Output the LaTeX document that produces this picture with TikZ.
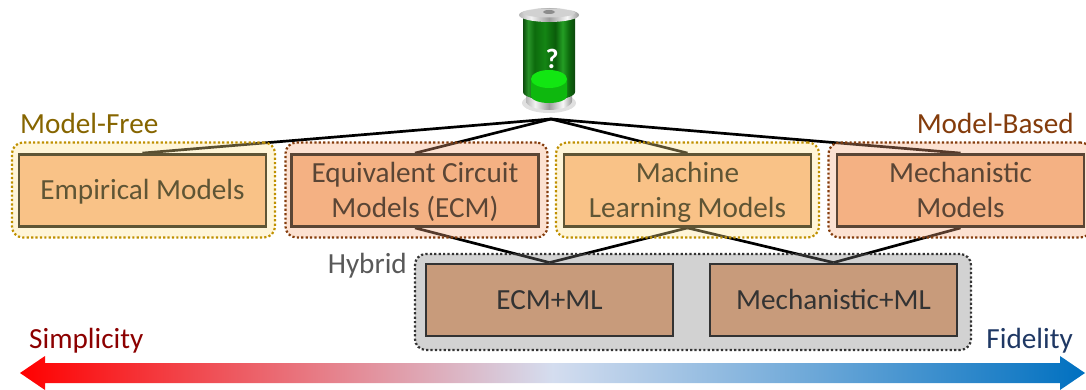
\documentclass[tikz,border=0pt]{standalone}
\usepackage{fontspec}
\setmainfont{Carlito}
\definecolor{freeedge}{HTML}{BF9000}
\definecolor{freefill}{HTML}{FFE38F}
\definecolor{freebox}{HTML}{F9C287}
\definecolor{freeink}{HTML}{5F5535}
\definecolor{basededge}{HTML}{843C0C}
\definecolor{basedfill}{HTML}{F7A97C}
\definecolor{basedbox}{HTML}{F4B183}
\definecolor{basedink}{HTML}{5A4535}
\definecolor{hybridfill}{HTML}{7F7F7F}
\definecolor{hybridbox}{HTML}{C89B7B}
\definecolor{hybridink}{HTML}{333333}
\definecolor{scalemid}{HTML}{D4DDEF}
\definecolor{scaleright}{HTML}{0070C0}
\definecolor{fidelityink}{HTML}{1F3864}
\definecolor{liquid}{HTML}{12E612}
\pgfdeclarehorizontalshading{glass}{100bp}{rgb(0bp)=(0.05,0.30,0.05); rgb(25bp)=(0.05,0.30,0.05); rgb(30bp)=(0.16,0.58,0.16); rgb(36bp)=(0.05,0.42,0.05); rgb(46bp)=(0.08,0.52,0.08); rgb(56bp)=(0.04,0.36,0.04); rgb(63bp)=(0.14,0.62,0.14); rgb(69bp)=(0.05,0.42,0.05); rgb(75bp)=(0.05,0.28,0.05); rgb(100bp)=(0.05,0.28,0.05)}
\pgfdeclarehorizontalshading{silver}{100bp}{rgb(0bp)=(0.72,0.72,0.72); rgb(25bp)=(0.72,0.72,0.72); rgb(35bp)=(0.95,0.95,0.95); rgb(50bp)=(0.62,0.62,0.62); rgb(65bp)=(0.97,0.97,0.97); rgb(75bp)=(0.60,0.60,0.60); rgb(100bp)=(0.60,0.60,0.60)}
\newcommand{\boxstrut}{\rule[-8.5pt]{0pt}{35pt}}
\pgfdeclarelayer{wires}
\pgfsetlayers{wires,main}
\tikzset{
  bigtext/.style={font=\fontsize{29.2}{35}\selectfont},
  frame/.style={rounded corners=11pt, line width=2.2pt, dash pattern=on 2.2pt off 2.2pt, fill opacity=0.35, minimum height=95pt, inner sep=0pt},
  modelbox/.style={bigtext, align=center, minimum width=247pt, minimum height=72pt, inner sep=0pt, line width=2.8pt},
  wire/.style={line width=2.7pt, black},
  tag/.style={bigtext, inner sep=0pt},
}
\begin{document}
\begin{tikzpicture}[x=1pt, y=-1pt]
\useasboundingbox (0,0) rectangle (1086,390);

  % Frames
  \node[frame, draw=freeedge, fill=freefill, minimum width=263pt] (freeframeA) at (143.5,190) {};
  \node[frame, draw=basededge, fill=basedfill, minimum width=262pt] (basedframeA) at (416.5,190) {};
  \node[frame, draw=freeedge, fill=freefill, minimum width=263pt] (freeframeB) at (687.5,190) {};
  \node[frame, draw=basededge, fill=basedfill, minimum width=263pt] (basedframeB) at (960,190) {};
  \node[frame, draw=hybridink, fill=hybridfill, minimum width=556pt, minimum height=96pt] (hybridframe) at (693,302) {};

  % Boxes
  \node[modelbox, draw=freeink, fill=freebox, text=freeink] (empirical) at (142.5,190.5) {\boxstrut Empirical Models};
  \node[modelbox, draw=basedink, fill=basedbox, text=basedink] (ecm) at (415,190.5) {\boxstrut Equivalent Circuit\\\boxstrut Models (ECM)};
  \node[modelbox, draw=freeink, fill=freebox, text=freeink] (learning) at (687.5,190.5) {\boxstrut Machine\\\boxstrut Learning Models};
  \node[modelbox, draw=basedink, fill=basedbox, text=basedink] (mechanistic) at (960.5,190.5) {\boxstrut Mechanistic\\\boxstrut Models};
  \node[modelbox, draw=hybridink, fill=hybridbox, text=hybridink] (ecmml) at (549.5,300) {\boxstrut ECM+ML};
  \node[modelbox, draw=hybridink, fill=hybridbox, text=hybridink] (mechml) at (833.5,300) {\boxstrut Mechanistic+ML};

  % Labels
  \node[tag, anchor=base west, text=freeedge!70!black] (freelabel) at (20,133.5) {Model-Free};
  \node[tag, anchor=base east, text=basededge] (basedlabel) at (1074,133.5) {Model-Based};
  \node[tag, anchor=base east, text=black!65] (hybridlabel) at (407,273) {Hybrid};
  \node[tag, anchor=base west, text=red!55!black] (simplicity) at (29,348) {Simplicity};
  \node[tag, anchor=base east, text=fidelityink] (fidelity) at (1073,348) {Fidelity};

  % Wires
  \coordinate (apex) at (551,119);
  \begin{pgfonlayer}{wires}
    \foreach \m in {empirical, ecm, learning, mechanistic} {%
      \draw[wire] (apex) -- (\m.north);
    }
    \draw[wire] (ecm.south) -- (ecmml.north);
    \draw[wire] (learning.south) -- (ecmml.north);
    \draw[wire] (learning.south) -- (mechml.north);
    \draw[wire] (mechanistic.south) -- (mechml.north);
  \end{pgfonlayer}

  % Scale arrow
  \shade[left color=red, right color=scaleright, middle color=scalemid]
    (20,373) -- (45,356) -- (45,363) -- (1060,363) -- (1060,356) -- (1085,373) -- (1060,390) -- (1060,383) -- (45,383) -- (45,390) -- cycle;

  % Battery
  \fill[black!12] (549,103) ellipse [x radius=27, y radius=10];
  \shade[shading=silver] (526,92) -- (526,101) arc [start angle=180, end angle=0, x radius=23, y radius=9] -- (572,92) -- cycle;
  \shade[shading=glass] (523,17) -- (523,92) arc [start angle=180, end angle=0, x radius=26, y radius=8] -- (575,17) -- cycle;
  \fill[liquid!80!black] (531,79) -- (531,96) arc [start angle=180, end angle=0, x radius=18, y radius=7] -- (567,79) -- cycle;
  \fill[liquid] (549,79) ellipse [x radius=18, y radius=9];
  \shade[shading=silver] (519,15) arc [start angle=180, end angle=0, x radius=30, y radius=7] -- (579,15) arc [start angle=0, end angle=-180, x radius=30, y radius=7] -- cycle;
  \fill[black!18] (549,13) ellipse [x radius=26, y radius=4.5];
  \fill[black!45] (549,12) ellipse [x radius=6, y radius=2];
  \node[font=\fontsize{28}{28}\selectfont\bfseries, text=white, inner sep=0pt] (question) at (552,59) {?};
\end{tikzpicture}
\end{document}
